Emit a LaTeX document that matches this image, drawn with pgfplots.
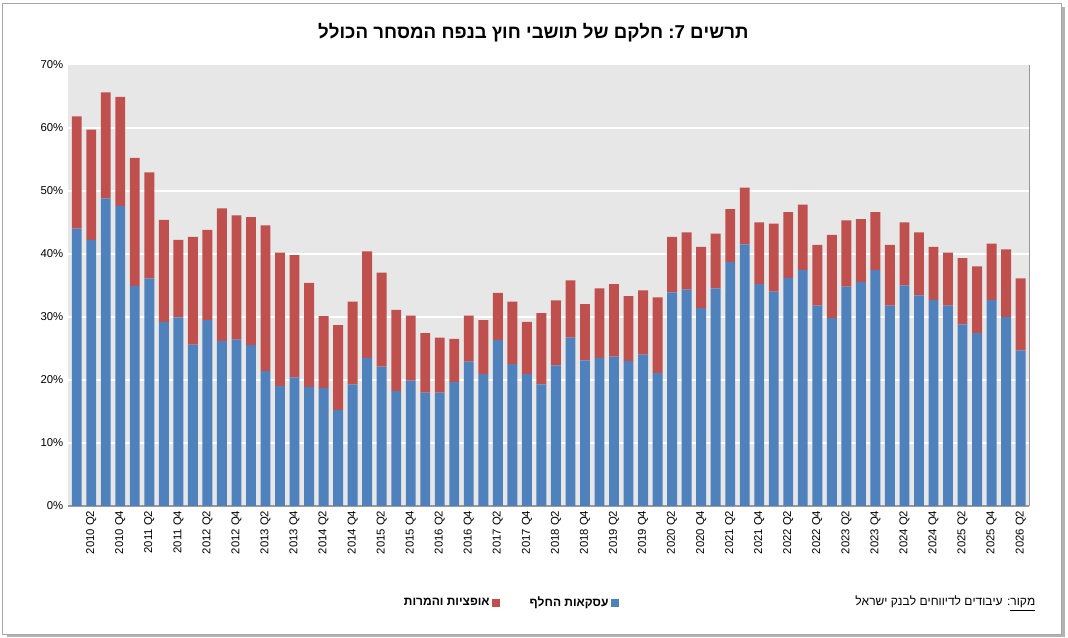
\documentclass[border=0pt]{standalone}
\usepackage{fontspec}
\setmainfont{Liberation Sans}
\TeXXeTstate=1
\usepackage{pgfplots}
\usepackage{pgfplotstable}
\pgfplotsset{compat=1.18}
\definecolor{cblue}{HTML}{4F81BD}
\definecolor{cred}{HTML}{C0504D}
\definecolor{bg}{HTML}{E7E7E7}
\pgfplotstableread{
x a b
0 44.0 17.8
1 42.2 17.5
2 48.8 16.8
3 47.6 17.3
4 34.9 20.3
5 36.1 16.8
6 29.2 16.2
7 29.9 12.3
8 25.6 17.1
9 29.5 14.3
10 26.2 21.0
11 26.4 19.7
12 25.5 20.3
13 21.4 23.1
14 19.0 21.2
15 20.4 19.4
16 18.9 16.5
17 18.7 11.4
18 15.2 13.5
19 19.3 13.1
20 23.5 16.9
21 22.1 14.9
22 18.2 12.9
23 19.9 10.3
24 18.0 9.4
25 18.0 8.7
26 19.7 6.8
27 22.9 7.3
28 20.9 8.6
29 26.3 7.5
30 22.5 9.9
31 20.9 8.3
32 19.3 11.3
33 22.3 10.3
34 26.7 9.1
35 23.1 8.9
36 23.5 11.0
37 23.7 11.5
38 23.0 10.3
39 24.0 10.2
40 21.1 12.0
41 33.9 8.8
42 34.3 9.1
43 31.4 9.7
44 34.5 8.7
45 38.7 8.4
46 41.5 9.0
47 35.2 9.8
48 34.0 10.8
49 36.2 10.4
50 37.4 10.4
51 31.8 9.6
52 29.8 13.2
53 34.8 10.5
54 35.5 10.0
55 37.4 9.2
56 31.8 9.6
57 35.0 10.0
58 33.4 10.0
59 32.7 8.4
60 31.8 8.4
61 28.8 10.5
62 27.4 10.6
63 32.7 8.9
64 30.0 10.7
65 24.7 11.4
}\data
\begin{document}
\begin{tikzpicture}
\useasboundingbox (0,0) rectangle (801pt,478.5pt);
\fill[gray!60] (5pt,0.5pt) rectangle (799pt,473pt);
\draw[gray!70,fill=white] (2pt,3pt) rectangle (796pt,476pt);
\node[font=\bfseries\fontsize{14}{16}\selectfont] at (400pt,454pt) {\beginR תרשים :7 חלקם של תושבי חוץ בנפח המסחר הכולל\endR};
\begin{axis}[
  at={(51pt,99pt)}, anchor=south west,
  scale only axis, width=721pt, height=331pt,
  ybar stacked, bar width=0.68,
  xmin=-0.6, xmax=65.6, ymin=0, ymax=70,
  axis background/.style={fill=bg},
  axis line style={draw=none},
  ytick={0,10,...,70},
  yticklabel={\pgfmathprintnumber{\tick}\%},
  /pgf/number format/assume math mode=true,
  ymajorgrids, grid style={white, line width=1.2pt},
  xtick={1,3,...,65},
  xticklabels={2010 Q2,2010 Q4,2011 Q2,2011 Q4,2012 Q2,2012 Q4,2013 Q2,2013 Q4,2014 Q2,2014 Q4,2015 Q2,2015 Q4,2016 Q2,2016 Q4,2017 Q2,2017 Q4,2018 Q2,2018 Q4,2019 Q2,2019 Q4,2020 Q2,2020 Q4,2021 Q2,2021 Q4,2022 Q2,2022 Q4,2023 Q2,2023 Q4,2024 Q2,2024 Q4,2025 Q2,2025 Q4,2026 Q2},
  x tick label style={rotate=90, anchor=east, font=\fontsize{8.5}{10}\selectfont},
  y tick label style={font=\fontsize{8.5}{10}\selectfont},
  major tick length=0pt,
  legend style={at={(0.46,-0.22)}, anchor=center, draw=none, fill=none, legend columns=2, font=\bfseries\fontsize{9}{11}\selectfont, /tikz/every even column/.append style={column sep=20pt}},
  legend plot pos=right,
  reverse legend,
  legend image code/.code={\fill[#1] (0pt,-3pt) rectangle (6pt,3pt);},
  clip=false,
]
\addplot[fill=cblue, draw=none] table[x=x,y=a]{\data};
\addplot[fill=cred, draw=none] table[x=x,y=b]{\data};
\draw[gray!80, line width=0.8pt] (axis cs:-0.6,0) -- (axis cs:65.6,0);
\draw[gray!80, line width=0.8pt] (axis cs:65.6,0) -- (axis cs:65.6,70);
\legend{\beginR עסקאות החלף\endR,\beginR אופציות והמרות\endR}
\end{axis}
\node[anchor=east, font=\fontsize{9}{11}\selectfont] at (780pt,26pt) {\beginR \underline{מקור}: עיבודים לדיווחים לבנק ישראל\endR};
\end{tikzpicture}
\end{document}
